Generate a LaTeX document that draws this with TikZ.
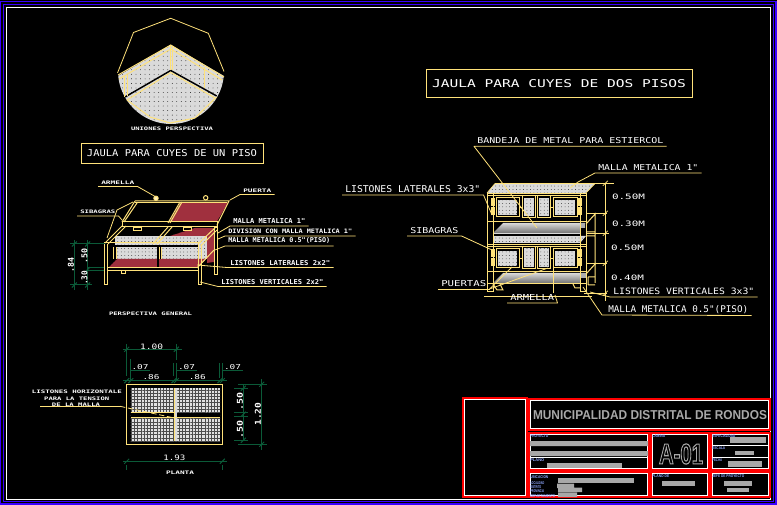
\documentclass[tikz,border=0pt]{standalone}
\usepackage{fontspec}
\usepackage{graphicx}
\usetikzlibrary{patterns.meta}
\newfontfamily\cadFont{DejaVu Sans Mono}
\newfontfamily\plateFont{Liberation Sans}
\newdimen\pxUnit
\pxUnit=.75pt
\newcommand{\cadText}[3]{\resizebox{#1\pxUnit}{#2\pxUnit}{\cadFont\bfseries #3}}
\newcommand{\cadWide}[3]{\resizebox{#1\pxUnit}{#2\pxUnit}{\cadFont #3}}
\definecolor{cadYellow}{HTML}{FFE27A}
\definecolor{cadGreen}{HTML}{0B5A38}
\definecolor{cadBlue}{HTML}{3A00FF}
\definecolor{cadRed}{HTML}{FF0000}
\definecolor{plateBlue}{HTML}{8FA8FF}
\definecolor{meshGray}{HTML}{DADADA}
\definecolor{barGray}{HTML}{A8A8A8}
\definecolor{floorRed}{HTML}{9A2030}
\tikzset {
	cadLine/.style={draw=cadYellow, line width=.75pt},
	thinLine/.style={draw=cadYellow, line width=.5pt},
	dimLine/.style={draw=cadGreen, line width=.75pt},
	dimTick/.style={draw=cadYellow, line width=.6pt},
	leader/.style={draw=cadYellow, line width=.6pt, line join=round},
	cadLabel/.style={inner xsep=2.25pt, inner ysep=1.5pt, anchor=south west, text=white},
	plainLabel/.style={inner sep=0pt, text=white},
	titleBox/.style={draw=cadYellow, line width=.75pt, inner sep=0pt, text=white},
	dotMesh/.style={preaction={fill=meshGray}, pattern={Dots[distance=2.6pt,radius=.28pt]}, pattern color=black},
	gridMesh/.style={preaction={fill=meshGray!80!white}, pattern={Hatch[angle=0,distance=2.4pt,line width=.3pt]}, pattern color=black!70},
	redMesh/.style={preaction={fill=floorRed}, pattern={Dots[distance=1.5pt,radius=.35pt]}, pattern color=meshGray!70},
	redBox/.style={draw=cadRed, line width=.9pt},
	whiteBox/.style={draw=white, line width=.75pt},
	plateTag/.style={inner sep=0pt, anchor=north west, text=plateBlue},
	plateBar/.style={fill=barGray}
}

\begin{document}
\begin{tikzpicture}[x=.75pt, y=-.75pt]
	\fill [black] (0,0) rectangle (777,505);
	\useasboundingbox (0,0) rectangle (777,505);
	% sheet frames
	\draw [draw=cadBlue, line width=.9pt] (.8,1.6) rectangle (776,504);
	\draw [draw=cadBlue, line width=.9pt] (3.8,4.6) rectangle (773.4,501.6);
	\draw [whiteBox] (6.6,7.6) rectangle (770.8,499.2);

	% joint detail
	\draw [cadLine, line width=.6pt] (117.5,73) -- (133.5,32.5) -- (170.7,18.3) -- (208.3,33.3) -- (224,71.5);
	\begin{scope}
		\clip (118,76) -- (170.7,45) -- (224,76) -- (224,130) -- (118,130) -- cycle;
		\fill [preaction={fill=meshGray}, pattern={Dots[distance=3.4pt,radius=.3pt]}, pattern color=black] (171,71) circle (53);
	\end{scope}
	\draw [cadLine] (118,75) -- (170.7,45) -- (224,77);
	\draw [cadLine] (119,79) -- (170.7,49) -- (222,80);
	\draw [draw=black, line width=1.1pt] (125,97) -- (170.7,70.5) -- (216.7,96);
	\draw [cadLine] (127,100) -- (170.7,72.5) -- (215,98);
	\draw [cadLine] (170,46) -- (170,70) (172,46) -- (172,70);
	\draw [cadLine] (124,76) -- (124,97) (127,75) -- (127,96);
	\draw [cadLine] (204.3,67) -- (204.3,88);
	\draw [cadLine] (127,100) -- (150,117) -- (170,123) -- (195,118) -- (216.5,97);
	\node [plainLabel] (lblJoint) at (172,129) {\cadText{82}{3.5}{UNIONES PERSPECTIVA}};
	\node [titleBox, minimum width=136.5pt, minimum height=15.7pt] (titleOne) at (172,153.5) {\cadWide{170}{7}{JAULA PARA CUYES DE UN PISO}};

	% single floor cage
	\fill [redMesh] (180.7,202.5) -- (228,202.5) -- (217,221.5) -- (170,221.5) -- cycle;
	\fill [redMesh] (195,228) -- (214,228) -- (208,236) -- (170,236) -- cycle;
	\fill [dotMesh] (115,236) rectangle (206.5,259);
	\fill [redMesh] (108,268) -- (117,259) -- (206,259) -- (197,268) -- cycle;
	\fill [redMesh] (207,233) -- (214,229) -- (214,262) -- (207,263) -- cycle;
	\draw [draw=black, line width=2.2pt] (107,246) -- (199,246);
	\draw [draw=black, line width=2pt] (158,247) -- (158,268);
	\fill [black] (116,247) rectangle (112,259) (159,247) rectangle (161,259);
	\draw [cadLine] (135,201) -- (229,201) -- (217,225);
	\draw [cadLine] (135,203) -- (227,203);
	\draw [cadLine] (135,201) -- (122,222) (137,203) -- (124,222);
	\draw [cadLine] (180,202) -- (168,223) (182,202) -- (170,223);
	\draw [cadLine] (122,222) rectangle (217,227);
	\draw [cadLine] (104,244) -- (122,226) (108,244) -- (126,226) (153,244) -- (168,227) (157,244) -- (172,227);
	\draw [cadLine] (198,244) -- (217,226) (200.7,246) -- (217,230);
	\draw [cadLine] (104,243) -- (201,243);
	\draw [cadLine] (104,244) -- (104,285) -- (107,285) -- (107,244);
	\draw [cadLine] (198,244) -- (198,285) -- (201,285) -- (201,244);
	\draw [cadLine] (214,228) rectangle (217,275);
	\draw [cadLine] (107,268) rectangle (198,271);
	\draw [cadLine] (116,247) -- (116,259) (113,247) -- (113,259) (159,247) -- (159,259) (161,247) -- (161,259);
	\draw [cadLine] (197,268) -- (214,250);
	\draw [thinLine] (133,227) rectangle (141,230) (183,227) rectangle (191,230);
	\draw [thinLine] (121,270) rectangle (125,273);
	\draw [cadLine, fill=cadYellow!45] (156,198.3) circle (2.2);
	\draw [cadLine] (205.7,197.8) circle (2.2);
	\coordinate (tipLeftEye) at (156,197);
	\coordinate (tipLeftTieA) at (122,220);
	\coordinate (tipLeftTieB) at (133,202);
	\coordinate (tipLeftTieC) at (107,238);
	\coordinate (tipLeftKink) at (117,210);
	\coordinate (tipLeftDoor) at (230,200);
	\coordinate (tipLeftMeshA) at (218,233);
	\coordinate (tipLeftMeshB) at (218,239);
	\coordinate (tipLeftMeshC) at (215,250);
	\coordinate (tipLeftRail) at (197,265);
	\coordinate (tipLeftPost) at (200,282);
	\node [cadLabel] (lblEye) at (98,186.5) {\cadText{33}{3.5}{ARMELLA}};
	\node [cadLabel] (lblTie) at (77,216) {\cadText{35}{3.5}{SIBAGRAS}};
	\node [cadLabel] (lblDoor) at (240,194.5) {\cadText{28}{3.5}{PUERTA}};
	\node [cadLabel] (lblMeshA) at (230,226) {\cadText{72}{5}{MALLA METALICA 1"}};
	\node [cadLabel] (lblMeshB) at (225,236) {\cadText{124}{4.5}{DIVISION CON MALLA METALICA 1"}};
	\node [cadLabel] (lblMeshC) at (225,246) {\cadText{102}{5}{MALLA METALICA 0.5"(PISO)}};
	\node [cadLabel] (lblRail) at (227,267.5) {\cadText{100}{5}{LISTONES LATERALES 2x2"}};
	\node [cadLabel] (lblPost) at (218,286.5) {\cadText{102}{5}{LISTONES VERTICALES 2x2"}};
	\draw [leader] (lblEye.south west) -- (lblEye.south east) -- (tipLeftEye);
	\draw [leader] (lblTie.south west) -- (lblTie.south east) -- (tipLeftTieA);
	\draw [leader] (tipLeftTieB) -- (tipLeftKink) -- (tipLeftTieC);
	\draw [leader] (lblDoor.south east) -- (lblDoor.south west) -- (tipLeftDoor);
	\draw [leader] (lblMeshA.south east) -- (lblMeshA.south west) -- (tipLeftMeshA);
	\draw [leader] (lblMeshB.south east) -- (lblMeshB.south west) -- (tipLeftMeshB);
	\draw [leader] (lblMeshC.south east) -- (lblMeshC.south west) -- (tipLeftMeshC);
	\draw [leader] (lblRail.south east) -- (lblRail.south west) -- (tipLeftRail);
	\draw [leader] (lblPost.south east) -- (lblPost.south west) -- (tipLeftPost);
	% dims of the single floor cage
	\draw [dimLine] (74.3,240) -- (74.3,290) (87.7,240) -- (87.7,290);
	\draw [dimLine] (70,244) -- (105,244) (70,285) -- (92,285) (87,268) -- (104,268) (87,271) -- (104,271);
	\foreach \tickX/\tickY in {74.3/244, 74.3/285, 87.7/244, 87.7/269.5, 87.7/285}
		\draw [dimLine] (\tickX-2.5,\tickY+2.5) -- (\tickX+2.5,\tickY-2.5);
	\node [plainLabel, rotate=90] (dimLeftA) at (71,265) {\cadText{15}{6}{.84}};
	\node [plainLabel, rotate=90] (dimLeftB) at (84.5,256) {\cadText{15}{6}{.50}};
	\node [plainLabel, rotate=90] (dimLeftC) at (84.5,278) {\cadText{14}{6}{.30}};
	\node [plainLabel] (lblGeneral) at (150.5,313.5) {\cadText{83}{3.5}{PERSPECTIVA GENERAL}};

	% plan
	\draw [cadLine, line width=1pt] (126.7,384.3) rectangle (222.3,444.3);
	\fill [gridMesh] (130.7,388.3) rectangle (220,441);
	\fill [black] (131,413) rectangle (219.5,416.5);
	\fill [meshGray] (173.5,388.3) rectangle (176.5,441);
	\draw [cadLine] (131,412.5) -- (173.5,412.5) (131,417) -- (219.5,417) (174.5,388.3) -- (174.5,441);
	\draw [dimLine] (122.7,349.3) -- (181.7,349.3);
	\draw [dimLine] (126.7,344) -- (126.7,376) (176.3,344) -- (176.3,360);
	\draw [dimLine] (130.7,359) -- (130.7,380) (173.3,363) -- (173.3,376) (176,363) -- (176,380) (219.3,363) -- (219.3,378) (222,363) -- (222,380);
	\draw [dimLine] (130.7,370.3) -- (150,370.3) (176,370.3) -- (196.7,370.3) (222,370.3) -- (243,370.3);
	\draw [dimLine] (122.7,380.7) -- (227.3,380.7);
	\draw [dimLine] (122.7,461.3) -- (227.3,461.3);
	\draw [dimLine] (126.7,465) -- (126.7,470) (222.3,465) -- (222.3,470);
	\draw [dimLine] (243.3,384) -- (243.3,441) (261.7,379) -- (261.7,450);
	\draw [dimLine] (238,384.3) -- (266.7,384.3) (234,388.3) -- (248,388.3) (234,412.3) -- (248,412.3) (234,416.3) -- (248,416.3) (234,440.3) -- (248,440.3) (238,444.3) -- (266.7,444.3);
	\foreach \tickX/\tickY in {126.7/349.3, 176.3/349.3, 126.7/380.7, 130.7/380.7, 174/380.7, 176.3/380.7, 220/380.7, 222.3/380.7, 126.7/461.3, 222.3/461.3, 243.3/388.3, 243.3/414.3, 243.3/440.3, 261.7/384.3, 261.7/444.3}
		\draw [dimLine] (\tickX-2.5,\tickY+2.5) -- (\tickX+2.5,\tickY-2.5);
	\node [plainLabel] (dimTop) at (151.7,346.5) {\cadWide{23}{5.5}{1.00}};
	\node [plainLabel] (dimGapA) at (140,367.5) {\cadWide{17}{5}{.07}};
	\node [plainLabel] (dimGapB) at (186.5,367.5) {\cadWide{17}{5}{.07}};
	\node [plainLabel] (dimGapC) at (232.5,367.5) {\cadWide{17}{5}{.07}};
	\node [plainLabel] (dimBayA) at (151,376.7) {\cadWide{17}{5}{.86}};
	\node [plainLabel] (dimBayB) at (197.3,376.7) {\cadWide{17}{5}{.86}};
	\node [plainLabel] (dimBase) at (174.3,458.3) {\cadWide{22}{5.5}{1.93}};
	\node [plainLabel, rotate=90] (dimSideA) at (240,401) {\cadText{18}{6}{.50}};
	\node [plainLabel, rotate=90] (dimSideB) at (240,429) {\cadText{18}{6}{.50}};
	\node [plainLabel, rotate=90] (dimSideC) at (258,414) {\cadText{23}{6}{1.20}};
	\node [plainLabel] (lblPlan) at (180,472.5) {\cadText{28}{3.5}{PLANTA}};
	\node [plainLabel] (lblBarA) at (77,391.7) {\cadText{90}{3.5}{LISTONES HORIZONTALE}};
	\node [plainLabel] (lblBarB) at (76.7,398.3) {\cadText{65}{3.5}{PARA LA TENSION}};
	\node [plainLabel] (lblBarC) at (76,404.7) {\cadText{48}{3.5}{DE LA MALLA}};
	\coordinate (tipBarStart) at (40,406.3);
	\coordinate (tipBarKnee) at (120,406.3);
	\coordinate (tipBarEnd) at (173,417.7);
	\draw [leader] (tipBarStart) -- (tipBarKnee);
	\draw [leader, dash pattern=on 4pt off 2pt] (tipBarKnee) -- (tipBarEnd);

	% two floor cage
	\node [titleBox, minimum width=199.5pt, minimum height=21pt] (titleTwo) at (559,84) {\cadWide{254}{8}{JAULA PARA CUYES DE DOS PISOS}};
	\fill [dotMesh] (495,183.5) -- (595,183.5) -- (586,193) -- (487,193) -- cycle;
	\draw [thinLine] (495,183.5) -- (595,183.5) -- (586,193);
	\draw [thinLine] (495,183.5) -- (487,193);
	\foreach \rowY in {0,50.5} {
		\draw [cadLine] (496,198+\rowY) rectangle (519,217+\rowY);
		\fill [dotMesh] (497.5,200.5+\rowY) rectangle (517,215.5+\rowY);
		\draw [cadLine] (553,198+\rowY) rectangle (577,217+\rowY);
		\fill [dotMesh] (554.5,200.5+\rowY) rectangle (575,215.5+\rowY);
		\draw [cadLine] (522,196+\rowY) rectangle (535,218+\rowY);
		\fill [dotMesh] (523.5,198+\rowY) rectangle (533.5,216.5+\rowY);
		\draw [cadLine] (537,196+\rowY) rectangle (550,218+\rowY);
		\fill [dotMesh] (538.5,198+\rowY) rectangle (548.5,216.5+\rowY);
		\draw [cadLine] (519,208+\rowY) -- (522,208+\rowY) (550,208+\rowY) -- (553,208+\rowY);
		\draw [cadLine, fill=cadYellow] (491,199+\rowY) rectangle (494,206+\rowY);
		\draw [cadLine, fill=cadYellow] (491,208+\rowY) rectangle (494,215+\rowY);
		\draw [cadLine, fill=cadYellow] (578,199+\rowY) rectangle (581,206+\rowY);
		\draw [cadLine, fill=cadYellow] (578,208+\rowY) rectangle (581,215+\rowY);
	}
	\foreach \trayY in {0,50} {
		\shade [top color=white!85!black, bottom color=black!55] (493,233+\trayY) -- (503,223+\trayY) -- (580,223+\trayY) -- (580,233+\trayY) -- cycle;
		\draw [draw=black!15, line width=.75pt] (493,233.5+\trayY) -- (580,233.5+\trayY);
		\draw [cadLine] (487,222+\trayY) -- (586,222+\trayY);
	}
	\fill [dotMesh] (493,236) rectangle (580,243);
	\fill [dotMesh] (580,236) -- (586,236) -- (580,243) -- cycle;
	\fill [meshGray!80!black] (580,223) rectangle (585,228) (581,273) rectangle (586,278);
	\draw [cadLine] (487,193.5) -- (586,193.5) (487,196) -- (586,196);
	\draw [cadLine] (487,246.7) -- (586,246.7) (487,244.5) -- (586,244.5);
	\draw [cadLine] (487,283.5) -- (586,283.5);
	\draw [cadLine] (487,193) -- (487,292) -- (493,292) -- (493,193);
	\draw [cadLine] (580,193) -- (580,292) -- (586,292) -- (586,193);
	\draw [cadLine] (493,284) -- (497,290) -- (503,290) -- (500,284);
	\draw [cadLine] (573,284) -- (575,288) -- (580,288);
	\draw [cadLine] (586,224) -- (596,213) (586,232) -- (595,232) (586,236) -- (595,236) (595,213) -- (595,283);
	\draw [cadLine] (588,277) -- (595,277) (588,285) -- (595,285) (588,277) -- (588,285) (586,274) -- (596,263);
	\draw [cadLine] (484,297) -- (592,297) (553,263) -- (553,293);
	% dims of the two floor cage
	\draw [thinLine] (605.3,183) -- (605.3,301);
	\draw [thinLine] (575,183.3) -- (614,183.3) (586,213.3) -- (607,213.3) (586,233.3) -- (609,233.3) (586,263.3) -- (607,263.3) (584,293.3) -- (607,293.3);
	\foreach \tickY in {183.3,213.3,233.3,263.3,293.3}
		\draw [dimTick] (605.3-2.5,\tickY+2.5) -- (605.3+2.5,\tickY-2.5);
	\node [plainLabel] (dimCageA) at (628.5,196.5) {\cadWide{33}{5.5}{0.50M}};
	\node [plainLabel] (dimCageB) at (628.5,223.5) {\cadWide{33}{5.5}{0.30M}};
	\node [plainLabel] (dimCageC) at (627.5,247.5) {\cadWide{33}{5.5}{0.50M}};
	\node [plainLabel] (dimCageD) at (627.5,277.5) {\cadWide{33}{5.5}{0.40M}};
	\coordinate (tipTray) at (537,228);
	\coordinate (tipMeshKnee) at (578,182);
	\coordinate (tipMesh) at (570,188);
	\coordinate (tipSide) at (492,215);
	\coordinate (tipTie) at (492,250);
	\coordinate (tipDoorA) at (512,267);
	\coordinate (tipDoorB) at (548,268);
	\coordinate (tipEyeA) at (555,295);
	\coordinate (tipPost) at (590,292);
	\coordinate (tipFloorKnee) at (602,315);
	\coordinate (tipFloor) at (583,287);
	\node [cadLabel] (lblTray) at (474,146.3) {\cadWide{186}{6}{BANDEJA DE METAL PARA ESTIERCOL}};
	\node [cadLabel] (lblMesh) at (595,173) {\cadWide{100}{6}{MALLA METALICA 1"}};
	\node [cadLabel] (lblSide) at (342,195) {\cadWide{135}{7}{LISTONES LATERALES 3x3"}};
	\node [cadLabel] (lblTieTwo) at (407,236) {\cadWide{48}{6}{SIBAGRAS}};
	\node [cadLabel] (lblDoors) at (438,289) {\cadWide{45}{6}{PUERTAS}};
	\node [cadLabel] (lblEyeTwo) at (507,303) {\cadWide{44}{6}{ARMELLA}};
	\node [cadLabel] (lblPostTwo) at (610,297) {\cadWide{141}{6.5}{LISTONES VERTICALES 3x3"}};
	\node [cadLabel] (lblFloor) at (605,315.5) {\cadWide{140}{7}{MALLA METALICA 0.5"(PISO)}};
	\draw [leader] (lblTray.south east) -- (lblTray.south west) -- (tipTray);
	\draw [leader] (lblMesh.south east) -- (lblMesh.south west) -- (tipMeshKnee) -- (tipMesh);
	\draw [leader] (lblSide.south west) -- (lblSide.south east) -- (tipSide);
	\draw [leader] (lblTieTwo.south west) -- (lblTieTwo.south east) -- (tipTie);
	\draw [leader] (lblDoors.south east) -- (lblDoors.south west);
	\draw [leader] (lblDoors.south east) -- (tipDoorA) (lblDoors.south east) -- (tipDoorB);
	\draw [leader] (lblEyeTwo.south west) -- (lblEyeTwo.south east) -- (tipEyeA);
	\draw [leader] (lblPostTwo.south east) -- (lblPostTwo.south west) -- (tipPost);
	\draw [leader] (lblFloor.south east) -- (tipFloorKnee) -- (tipFloor);

	% title block
	\foreach \boxA/\boxB/\boxC/\boxD in {463/398/527/497, 529/399/770/430, 529/433/649/470, 651/433/709/470, 711/433/770/470, 529/472/649/497, 651/472/709/497, 711/472/770/497} {
		\draw [redBox] (\boxA,\boxB) rectangle (\boxC,\boxD);
		\draw [whiteBox] (\boxA+1.5,\boxB+1.5) rectangle (\boxC-1.5,\boxD-1.5);
	}
	\draw [whiteBox] (530.5,457.5) -- (647.5,457.5);
	\draw [whiteBox] (712.5,445) -- (768.5,445) (712.5,457) -- (768.5,457);
	\node [inner sep=0pt, text=barGray] (plateName) at (650,415.3) {\resizebox{234\pxUnit}{9\pxUnit}{\plateFont\bfseries MUNICIPALIDAD DISTRITAL DE RONDOS}};
	\node [inner sep=0pt, text=barGray] (plateSheet) at (681,454) {\special{pdf:code q 1 Tr .4 w .66 .66 .66 RG}\resizebox{44\pxUnit}{20\pxUnit}{\plateFont\bfseries A-01}\special{pdf:code Q}};
	\fill [plateBar] (530,441) rectangle (648,446) (530,451) rectangle (648,456);
	\fill [plateBar] (547,463) rectangle (622,467.5);
	\fill [plateBar] (558,478) rectangle (634,483);
	\fill [plateBar] (557,483.5) rectangle (574,488) (558,487.5) rectangle (582,492) (558,492.5) rectangle (577,497);
	\fill [plateBar] (662,481) rectangle (695,485.5);
	\fill [plateBar] (730,437) rectangle (766,442.5);
	\fill [plateBar] (735,451) rectangle (754,455);
	\fill [plateBar] (728,461) rectangle (762,466.5);
	\fill [plateBar] (724,481) rectangle (752,486);
	\fill [plateBar] (727,488) rectangle (749,492);
	\foreach \tagX/\tagY/\tagW/\tagText in {530/434/18/PROYECTO, 530/458/14/PLANO, 530/475/18/UBICACION, 530/481/14/LOCALIDAD, 530/485.5/11/DISTRITO, 530/489.5/14/PROVINCIA, 530/494/25/DEPARTAMENTO, 652/434/13/LAMINA, 652/474/17/PLANO DE, 712/434/23/ESPECIALIDAD, 712/446/13/ESCALA, 712/458/10/FECHA, 712/474/32/JEFE DE PROYECTO}
		\node [plateTag] at (\tagX,\tagY) {\resizebox{\tagW\pxUnit}{2.8\pxUnit}{\plateFont\bfseries \tagText}};
\end{tikzpicture}
\end{document}
